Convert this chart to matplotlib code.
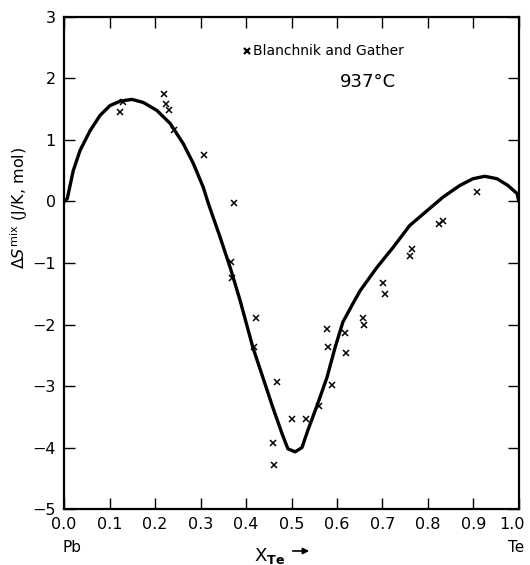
import numpy as np
import matplotlib
matplotlib.use("Agg")
import matplotlib.pyplot as plt
from matplotlib.transforms import ScaledTranslation

"###################### Data read off the figure ######################"
## calculated curve, 937 C
x_calc = [0.0, 0.007, 0.02, 0.035, 0.057, 0.079, 0.101, 0.123, 0.149, 0.174,
          0.204, 0.233, 0.262, 0.284, 0.306, 0.317, 0.343, 0.365, 0.387, 0.415,
          0.437, 0.459, 0.479, 0.492, 0.508, 0.523, 0.536, 0.558, 0.578, 0.596,
          0.613, 0.635, 0.651, 0.688, 0.723, 0.760, 0.798, 0.833, 0.870, 0.899,
          0.925, 0.952, 0.976, 0.996, 1.0]
s_calc = [0.0, 0.05, 0.50, 0.83, 1.15, 1.40, 1.56, 1.63, 1.66, 1.61,
          1.48, 1.27, 0.94, 0.62, 0.23, -0.03, -0.58, -1.07, -1.61, -2.37,
          -2.86, -3.35, -3.77, -4.02, -4.07, -4.00, -3.72, -3.28, -2.86, -2.37,
          -1.96, -1.66, -1.45, -1.07, -0.75, -0.39, -0.15, 0.07, 0.26, 0.37,
          0.41, 0.37, 0.26, 0.13, 0.0]

## Blanchnik and Gather
x_exp = [0.123, 0.130, 0.220, 0.224, 0.231, 0.242, 0.308, 0.374, 0.367, 0.369,
         0.422, 0.418, 0.468, 0.459, 0.462, 0.501, 0.532, 0.560, 0.589, 0.578,
         0.580, 0.618, 0.620, 0.657, 0.659, 0.701, 0.705, 0.760, 0.765, 0.824,
         0.833, 0.908]
s_exp = [1.45, 1.61, 1.74, 1.58, 1.48, 1.17, 0.75, -0.03, -0.98, -1.25,
         -1.89, -2.37, -2.93, -3.93, -4.28, -3.53, -3.54, -3.32, -2.98, -2.07,
         -2.36, -2.13, -2.47, -1.90, -2.00, -1.33, -1.51, -0.88, -0.78, -0.36,
         -0.31, 0.15]

x_ticks = [0.0, 0.1, 0.2, 0.3, 0.4, 0.5, 0.6, 0.7, 0.8, 0.9, 1.0]
y_ticks = [-5, -4, -3, -2, -1, 0, 1, 2, 3]

"###################### Plot ######################"
tick_size = 11.5

fig = plt.figure(figsize=(5.30, 5.65), dpi=100)
ax = fig.add_axes([0.121, 0.099, 0.858, 0.871])

ax.plot(x_calc, s_calc, color='k', lw=2.4, solid_capstyle='round',
        solid_joinstyle='round', zorder=2)
ax.plot(x_exp, s_exp, ls='none', marker='x', ms=4.5, mew=1.1, color='k', zorder=3)

ax.set_xlim(0, 1)
ax.set_ylim(-5, 3)
ax.set_xticks(x_ticks)
ax.set_xticklabels(["%.1f" % t for t in x_ticks])
ax.set_yticks(y_ticks)
ax.set_yticklabels([str(t).replace('-', '\u2212') for t in y_ticks])
ax.tick_params(axis='both', direction='in', length=8, width=1.0,
               top=True, right=True, labelsize=tick_size, pad=6)
for sp in ax.spines.values():
    sp.set_linewidth(1.6)

# keep the "1.0" label inside the figure
last = ax.get_xticklabels()[-1]
last.set_transform(last.get_transform() + ScaledTranslation(-5 / 72, 0, fig.dpi_scale_trans))

ax.set_ylabel(r'$\Delta S^{\mathrm{mix}}$ (J/K, mol)', fontsize=11.5)
ax.yaxis.set_label_coords(-0.075, 0.612)

# legend and temperature
ax.plot([0.402], [0.931], transform=ax.transAxes, marker='x', ms=4.5, mew=1.6,
        color='k', ls='none')
ax.text(0.415, 0.931, 'Blanchnik and Gather', transform=ax.transAxes,
        fontsize=10, va='center', ha='left')
ax.text(0.668, 0.868, '937\u00b0C', transform=ax.transAxes,
        fontsize=13, va='center', ha='center')

# end member labels and axis label
fig.text(72 / 530, 1 - 548 / 565, 'Pb', fontsize=11, ha='center', va='center')
fig.text(516 / 530, 1 - 548 / 565, 'Te', fontsize=11, ha='center', va='center')
fig.text(270 / 530, 1 - 556 / 565, r'$\mathrm{X}_{\mathbf{Te}}$', fontsize=13,
         ha='center', va='center')
ax.annotate('', xy=(312 / 530, 1 - 551 / 565), xytext=(290 / 530, 1 - 551 / 565),
            xycoords='figure fraction', textcoords='figure fraction',
            arrowprops=dict(arrowstyle='-|>', color='k', lw=1.2, mutation_scale=9))

fig.savefig('out.png', dpi=100)
